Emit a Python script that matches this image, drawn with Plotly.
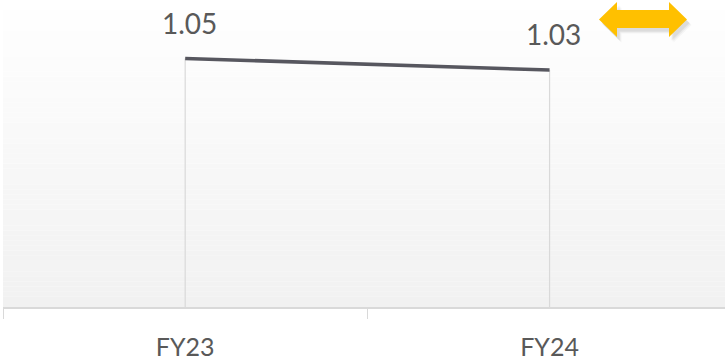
import plotly.graph_objects as go

# Fiscal-year ratio values
categories = ["FY23", "FY24"]
ratios = [1.05, 1.03]
label_texts = [f"{v:.2f}" for v in ratios]

W, H = 725, 363
M_L, M_R, M_T, M_B = 3, 0, 0, 56
Y_MIN, Y_MAX = 0.618, 1.1517

LINE_COLOR = "#57575f"
GRID_COLOR = "#d9d9d9"
TEXT_COLOR = "#595959"
ARROW_COLOR = "#FFC000"
FONT = "Lato"

fig = go.Figure()

# Vertical drop lines from each point down to the category axis
drop_x, drop_y = [], []
for c, v in zip(categories, ratios):
    drop_x += [c, c, None]
    drop_y += [Y_MIN, v, None]
fig.add_trace(go.Scatter(
    x=drop_x, y=drop_y, mode="lines",
    line=dict(color=GRID_COLOR, width=1.2),
    hoverinfo="skip", showlegend=False,
))

# Main ratio line
fig.add_trace(go.Scatter(
    x=categories, y=ratios, mode="lines",
    line=dict(color=LINE_COLOR, width=3.6),
    showlegend=False,
))

# Value labels above each point
for c, v, t in zip(categories, ratios, label_texts):
    fig.add_annotation(
        x=c, y=v, text=t, showarrow=False,
        xshift=4, yshift=36, yanchor="middle",
        font=dict(family=FONT, size=28, color=TEXT_COLOR),
    )

# Soft vertical gradient background for the plot area (white at top, light grey at bottom)
steps = 60
top_rgb = (255, 255, 255)
bot_rgb = (241, 241, 241)
shapes = []
for i in range(steps):
    f = (i + 0.5) / steps
    col = tuple(round(bot_rgb[k] + (top_rgb[k] - bot_rgb[k]) * f) for k in range(3))
    shapes.append(dict(
        type="rect", xref="paper", yref="paper", layer="below",
        x0=0, x1=1, y0=i / steps, y1=(i + 1) / steps,
        fillcolor=f"rgb{col}", line=dict(width=0),
    ))

# Yellow double-headed arrow indicator (top right), drawn in pixel space
plot_w = W - M_L - M_R
plot_h = H - M_T - M_B


def to_paper(px, py):
    return (px - M_L) / plot_w, (plot_h + M_T - py) / plot_h


arrow_px = [(599, 19.5), (617, 2), (617, 10), (669, 10), (669, 2),
            (687, 19.5), (669, 37), (669, 28), (617, 28), (617, 37)]


def arrow_path(dx=0.0, dy=0.0):
    pts = [to_paper(x + dx, y + dy) for x, y in arrow_px]
    return "M " + " L ".join(f"{x:.5f},{y:.5f}" for x, y in pts) + " Z"


for dx, dy, a in [(4.5, 5.5, 0.05), (3.5, 4.5, 0.07), (2.5, 3.5, 0.09)]:
    shapes.append(dict(
        type="path", xref="paper", yref="paper", path=arrow_path(dx, dy),
        fillcolor=f"rgba(90,90,90,{a})", line=dict(width=0), layer="above",
    ))
shapes.append(dict(
    type="path", xref="paper", yref="paper", path=arrow_path(),
    fillcolor=ARROW_COLOR, line=dict(width=0), layer="above",
))

fig.update_layout(
    width=W, height=H,
    margin=dict(l=M_L, r=M_R, t=M_T, b=M_B, pad=0),
    paper_bgcolor="white",
    plot_bgcolor="rgba(0,0,0,0)",
    shapes=shapes,
    showlegend=False,
    xaxis=dict(
        type="category",
        range=[-0.5, 1.4815],
        tickson="boundaries",
        ticks="outside", ticklen=10, tickwidth=1.2, tickcolor=GRID_COLOR,
        showline=True, linecolor=GRID_COLOR, linewidth=1.5,
        showgrid=False, zeroline=False,
        tickfont=dict(family=FONT, size=25, color=TEXT_COLOR),
        ticklabelstandoff=17,
    ),
    yaxis=dict(
        range=[Y_MIN, Y_MAX],
        visible=False, showgrid=False, zeroline=False,
    ),
)

fig.write_html("out.html")
